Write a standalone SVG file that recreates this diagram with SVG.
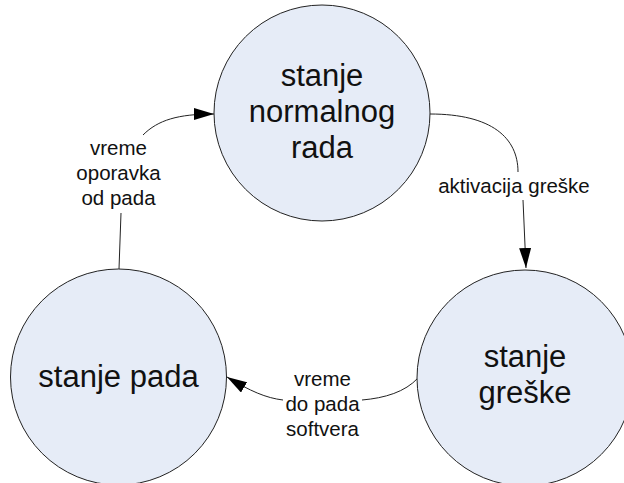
<svg xmlns="http://www.w3.org/2000/svg" width="624" height="483" viewBox="0 0 624 483">
<style>
.node{fill:#e6ecf7;stroke:#222;stroke-width:1}
.nt{font-family:"Liberation Sans",Arial,sans-serif;font-size:31px;fill:#111;text-anchor:middle}
.lt{font-family:"Liberation Sans",Arial,sans-serif;font-size:20.5px;fill:#111;text-anchor:middle}
.edge{fill:none;stroke:#222;stroke-width:1}
</style>
<defs>
<marker id="arr" viewBox="0 0 20 12" refX="20" refY="6" markerWidth="20" markerHeight="12" markerUnits="userSpaceOnUse" orient="auto">
<path d="M0,0 L20,6 L0,12 Z" fill="#000"/>
</marker>
</defs>
<rect width="624" height="483" fill="#fff"/>
<g id="connectors">
<path class="edge" d="M119,269 L121,213"/>
<path class="edge" d="M143,135 C158,120 178,114 214,114" marker-end="url(#arr)"/>
<path class="edge" d="M430,114 C492,114 518,138 518,172"/>
<path class="edge" d="M523,200 L526,268" marker-end="url(#arr)"/>
<path class="edge" d="M418,378 C405,392 385,398 362,400"/>
<path class="edge" d="M283,400 C266,398 250,391 227,377" marker-end="url(#arr)"/>
<text class="lt"><tspan x="118.5" y="155">vreme</tspan><tspan x="118.5" y="180">oporavka</tspan><tspan x="118.5" y="205">od pada</tspan></text>
<text class="lt" x="514" y="193">aktivacija greške</text>
<text class="lt"><tspan x="322.5" y="386">vreme</tspan><tspan x="322.5" y="411">do pada</tspan><tspan x="322.5" y="436">softvera</tspan></text>
</g>
<g id="normalan">
<circle class="node" cx="322" cy="113" r="108"/>
<text class="nt"><tspan x="322" y="86">stanje</tspan><tspan x="322" y="122">normalnog</tspan><tspan x="322" y="158">rada</tspan></text>
</g>
<g id="greska">
<circle class="node" cx="525" cy="378" r="108"/>
<text class="nt"><tspan x="525" y="367">stanje</tspan><tspan x="525" y="403">greške</tspan></text>
</g>
<g id="pad">
<circle class="node" cx="118.5" cy="377" r="108"/>
<text class="nt" x="118.5" y="387">stanje pada</text>
</g>
</svg>
